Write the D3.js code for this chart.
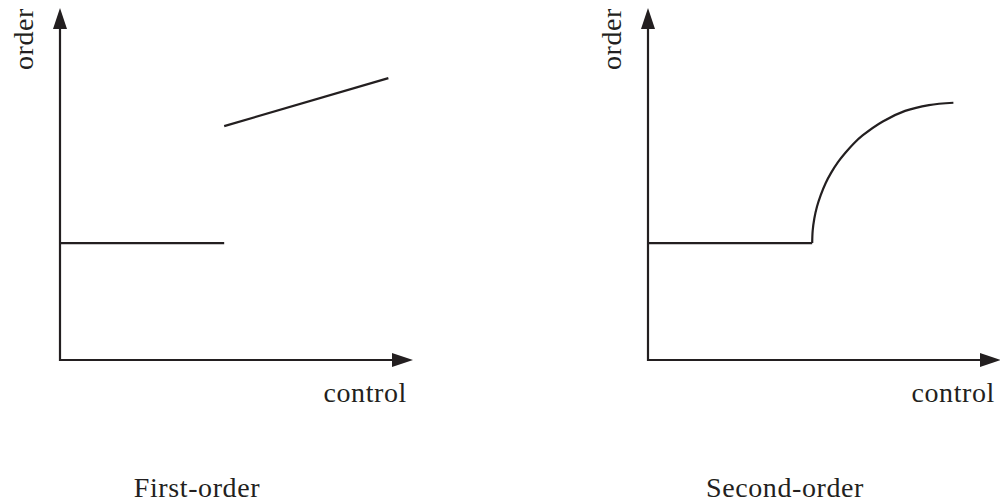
<!DOCTYPE html>
<html>
<head>
<meta charset="utf-8">
<script src="https://cdn.jsdelivr.net/npm/d3@7"></script>
<style>
  body { margin: 0; background: #fff; }
  text { font-family: "Liberation Serif", "DejaVu Serif", serif; font-size: 28px; fill: #231f20; letter-spacing: 0.6px; }
</style>
</head>
<body>
<div id="chart"></div>
<script>
// panel titles and axis labels
var titles = ['First-order', 'Second-order'];
var xLabel = 'control',
    yLabel = 'order';

// order parameter vs control parameter (arbitrary units, transition at control = 1)
var firstOrderLow = [[0, 1], [1, 1]];
var firstOrderHigh = [[1, 2.0], [2, 2.41]];
var secondOrderLow = [[0, 1], [1, 1]];
var secondOrderHigh = [
  [1.000, 1.00], [1.003, 1.105], [1.013, 1.21], [1.029, 1.31], [1.052, 1.41],
  [1.081, 1.51], [1.115, 1.60], [1.156, 1.69], [1.201, 1.77], [1.252, 1.85],
  [1.307, 1.92], [1.430, 2.04], [1.566, 2.13], [1.711, 2.18], [1.860, 2.20]
];

var panels = [
  { title: titles[0], series: [firstOrderLow, firstOrderHigh], x0: 60 },
  { title: titles[1], series: [secondOrderLow, secondOrderHigh], x0: 648 }
];

var width = 1000,
    height = 502,
    ink = '#231f20';

var svg = d3.select('#chart')
  .append('svg')
  .attr('width', width)
  .attr('height', height);

// same scales for both panels, drawn in local coordinates
var x = d3.scaleLinear().domain([0, 2.15]).range([0, 353]);
var y = d3.scaleLinear().domain([0, 3.01]).range([360, 8]);

var line = d3.line()
  .x(function(d) { return x(d[0]); })
  .y(function(d) { return y(d[1]); })
  .curve(d3.curveCatmullRom.alpha(0.5));

panels.forEach(function(p) {
  var g = svg.append('g').attr('transform', 'translate(' + p.x0 + ',0)');
  var ox = x(0), oy = y(0),
      xTip = x.range()[1], yTip = y.range()[1],
      headLen = 21, headW = 7;

  // axes
  g.append('path')
    .attr('d', 'M' + ox + ',' + (yTip + headLen - 1) + 'V' + oy + 'H' + (xTip - headLen + 1))
    .attr('fill', 'none')
    .attr('stroke', ink)
    .attr('stroke-width', 2.2);

  // arrow heads
  g.append('path')
    .attr('d', 'M' + xTip + ',' + oy + 'L' + (xTip - headLen) + ',' + (oy - headW) +
               'L' + (xTip - headLen) + ',' + (oy + headW) + 'Z')
    .attr('fill', ink);
  g.append('path')
    .attr('d', 'M' + ox + ',' + yTip + 'L' + (ox - headW) + ',' + (yTip + headLen) +
               'L' + (ox + headW) + ',' + (yTip + headLen) + 'Z')
    .attr('fill', ink);

  // curves
  g.selectAll('path.series')
    .data(p.series)
    .enter()
    .append('path')
    .attr('class', 'series')
    .attr('d', line)
    .attr('fill', 'none')
    .attr('stroke', ink)
    .attr('stroke-width', 2.2);

  // labels
  g.append('text')
    .attr('x', 347)
    .attr('y', 402)
    .attr('text-anchor', 'end')
    .text(xLabel);

  g.append('text')
    .attr('transform', 'translate(-27,8) rotate(-90)')
    .attr('text-anchor', 'end')
    .text(yLabel);

  g.append('text')
    .attr('x', 137)
    .attr('y', 497)
    .attr('text-anchor', 'middle')
    .text(p.title);
});
</script>
</body>
</html>
